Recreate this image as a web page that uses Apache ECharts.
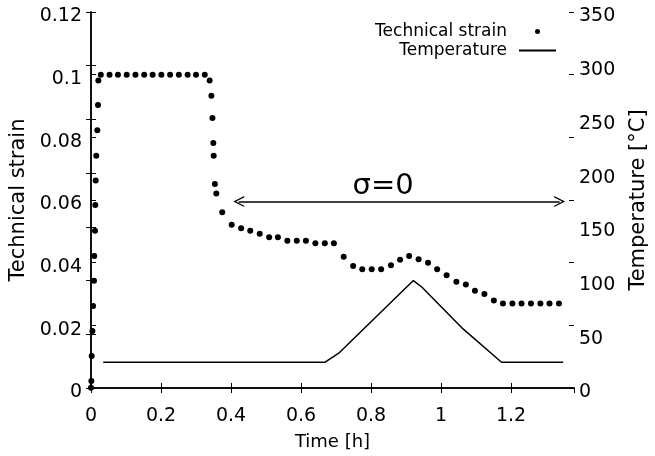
<!DOCTYPE html>
<html>
<head>
<meta charset="utf-8">
<script src="https://cdn.jsdelivr.net/npm/echarts@6/dist/echarts.min.js"></script>
<style>
  html, body { margin: 0; padding: 0; background: #fff; }
  #chart { width: 655px; height: 456px; }
</style>
</head>
<body>
<div id="chart"></div>
<script>
// 应变测点（时间 h，技术应变）
const strainTime = [0, 0.001, 0.002, 0.004, 0.006, 0.0086, 0.0094, 0.0114, 0.0123, 0.0134, 0.015, 0.018, 0.02, 0.021,
  0.028, 0.053, 0.077, 0.102, 0.127, 0.152, 0.176, 0.201, 0.226, 0.251, 0.276, 0.300, 0.325,
  0.339, 0.344, 0.347, 0.3495, 0.3505, 0.354, 0.358, 0.375,
  0.402, 0.429, 0.455, 0.482, 0.509, 0.534, 0.561, 0.588, 0.614, 0.641, 0.668, 0.694,
  0.722, 0.749, 0.775, 0.802, 0.829, 0.857, 0.883, 0.909, 0.936, 0.963, 0.989,
  1.016, 1.044, 1.071, 1.097, 1.124, 1.151, 1.177, 1.204, 1.230, 1.257, 1.284, 1.310, 1.337];
const strain = [0.0001, 0.0022, 0.0102, 0.0182, 0.0262, 0.0342, 0.0421, 0.0502, 0.0584, 0.0662, 0.0741, 0.0823, 0.0903, 0.0981,
  0.1, 0.1, 0.1, 0.1, 0.1, 0.1, 0.1, 0.1, 0.1, 0.1, 0.1, 0.1, 0.1,
  0.0981, 0.0933, 0.0862, 0.0782, 0.0741, 0.0651, 0.0621, 0.0561,
  0.0521, 0.0510, 0.0502, 0.0492, 0.0481, 0.0481, 0.0470, 0.0470, 0.0470, 0.0462, 0.0462, 0.0462,
  0.0419, 0.0389, 0.0379, 0.0379, 0.0379, 0.0392, 0.0409, 0.0421, 0.0411, 0.0400, 0.0379,
  0.0360, 0.0339, 0.0330, 0.0310, 0.0300, 0.0279, 0.0270, 0.0270, 0.0270, 0.0270, 0.0270, 0.0270, 0.0270];

// 温度曲线（时间 h，°C）
const tempTime = [0.035, 0.669, 0.71, 0.921, 0.945, 1.063, 1.173, 1.349];
const temp = [24, 24, 33, 100, 94, 55, 24, 24];

// σ=0 区间（时间 h）与箭头所在应变高度
const sigmaSpan = [0.422, 1.339];
const sigmaLevel = 0.0595;

const FONT = 'DejaVu Sans';
const INK = '#000';
const OPEN_ARROW = 'path://M0,0 L10,12 L7.6,12 L0,3.2 L-7.6,12 L-10,12 Z';

const chart = echarts.init(document.getElementById('chart'));

const tickInside = { show: true, inside: true, length: 5, lineStyle: { color: INK, width: 1 } };
const axisLineBlack = { show: true, lineStyle: { color: INK, width: 1.5 } };

// 刻度标签整体下移几像素（与原图一致）
const shiftedLabel = (margin) => ({
  margin,
  formatter: v => '{t|' + v + '}',
  rich: { t: { fontFamily: FONT, fontSize: 19, color: INK, padding: [9, 0, 0, 0] } }
});

chart.setOption({
  animation: false,
  backgroundColor: '#fff',
  textStyle: { fontFamily: FONT, color: INK },
  grid: { left: 91, right: 81, top: 12, bottom: 68, outerBoundsMode: 'none', containLabel: false },
  legend: {
    orient: 'vertical',
    right: 93,
    top: 18,
    align: 'right',
    itemWidth: 37,
    itemHeight: 5,
    itemGap: 2,
    textStyle: { fontFamily: FONT, fontSize: 17, color: INK, padding: [0, 7, 0, 0] },
    data: [
      { name: 'Technical strain' },
      { name: 'Temperature', itemStyle: { color: 'rgba(0,0,0,0)', borderWidth: 0 } }
    ]
  },
  xAxis: [
    {
      type: 'value', position: 'bottom', min: 0, max: 1.38, interval: 0.2,
      name: 'Time [h]', nameLocation: 'middle', nameGap: 45,
      nameTextStyle: { fontFamily: FONT, fontSize: 18, color: INK },
      axisLine: axisLineBlack, axisTick: tickInside,
      axisLabel: { fontFamily: FONT, fontSize: 19, color: INK, margin: 19, showMaxLabel: false },
      splitLine: { show: false }
    },
    {
      type: 'value', position: 'top', min: 0, max: 1.38, interval: 0.2,
      axisLine: axisLineBlack, axisTick: tickInside,
      axisLabel: { show: false }, splitLine: { show: false }
    }
  ],
  yAxis: [
    {
      type: 'value', position: 'left', min: 0, max: 0.12, interval: 0.02,
      name: 'Technical strain', nameLocation: 'middle', nameGap: 60,
      nameTextStyle: { fontFamily: FONT, fontSize: 21, color: INK },
      axisLine: axisLineBlack, axisTick: tickInside,
      axisLabel: shiftedLabel(9),
      splitLine: { show: false }
    },
    {
      type: 'value', position: 'right', min: 0, max: 350, interval: 50,
      name: 'Temperature [°C]', nameLocation: 'middle', nameGap: 54,
      nameTextStyle: { fontFamily: FONT, fontSize: 21, color: INK },
      axisLine: axisLineBlack, axisTick: tickInside,
      axisLabel: shiftedLabel(5),
      splitLine: { show: false }
    },
    {
      // 右侧镜像应变刻度
      type: 'value', position: 'right', min: 0, max: 0.12, interval: 0.02,
      axisLine: { show: false }, axisTick: tickInside,
      axisLabel: { show: false }, splitLine: { show: false }
    },
    {
      // 左侧镜像温度刻度
      type: 'value', position: 'left', min: 0, max: 350, interval: 50,
      axisLine: { show: false }, axisTick: tickInside,
      axisLabel: { show: false }, splitLine: { show: false }
    }
  ],
  series: [
    {
      name: 'Technical strain',
      type: 'scatter',
      xAxisIndex: 0, yAxisIndex: 0,
      symbol: 'circle',
      symbolSize: 6,
      itemStyle: { color: INK, opacity: 1 },
      data: strainTime.map((t, i) => [t, strain[i]]),
      markLine: {
        silent: true,
        symbol: [OPEN_ARROW, OPEN_ARROW],
        symbolSize: [11, 11],
        lineStyle: { color: INK, width: 1.5, type: 'solid' },
        label: {
          show: true,
          position: 'insideMiddleTop',
          formatter: 'σ=0',
          fontFamily: FONT,
          fontSize: 29,
          color: INK,
          distance: 1,
          offset: [-16, 0]
        },
        data: [[
          { coord: [sigmaSpan[0], sigmaLevel] },
          { coord: [sigmaSpan[1], sigmaLevel] }
        ]]
      }
    },
    {
      name: 'Temperature',
      type: 'line',
      xAxisIndex: 0, yAxisIndex: 1,
      symbol: 'none',
      lineStyle: { color: INK, width: 1.5 },
      itemStyle: { color: INK },
      data: tempTime.map((t, i) => [t, temp[i]])
    }
  ]
});
</script>
</body>
</html>
